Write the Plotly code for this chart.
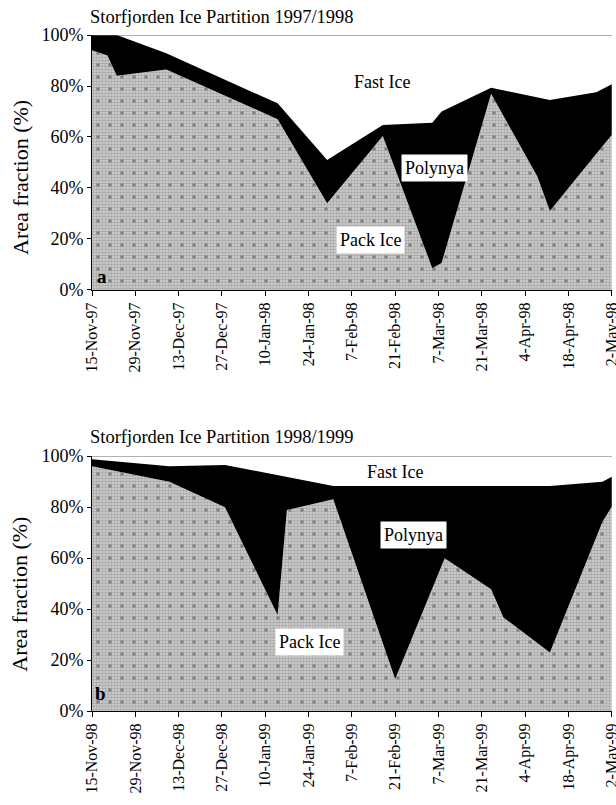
import plotly.graph_objects as go
from plotly.subplots import make_subplots

# ---------------- data ----------------
titles = ["Storfjorden Ice Partition 1997/1998", "Storfjorden Ice Partition 1998/1999"]
panel_letters = ["a", "b"]
y_title = "Area fraction (%)"

dates_a = ["1997-11-15", "1997-11-20", "1997-11-23", "1997-12-09", "1998-01-14",
           "1998-01-30", "1998-02-17", "1998-03-05", "1998-03-08", "1998-03-24",
           "1998-04-08", "1998-04-12", "1998-04-27", "1998-05-02"]
pack_a = [94, 92, 84, 86.5, 67, 34, 60.4, 8.5, 10.6, 77, 44.4, 31, 53.4, 60.8]
polynya_a = [6, 8, 16, 6.3, 6.2, 17, 4.3, 57.1, 59.4, 2.3, 31.1, 43.5, 24.1, 19.9]

dates_b = ["1998-11-15", "1998-12-10", "1998-12-28", "1999-01-14", "1999-01-17",
           "1999-02-01", "1999-02-21", "1999-03-09", "1999-03-24", "1999-03-28",
           "1999-04-12", "1999-04-29", "1999-05-02"]
pack_b = [96, 89.9, 79.9, 37.6, 78.8, 83, 12.5, 59.9, 47.7, 36.7, 22.9, 74.2, 80.1]
polynya_b = [2.7, 6.1, 16.6, 55, 13.1, 5.2, 75.7, 28.3, 40.3, 51.3, 65.3, 15.7, 11.8]

ticks_a = ["1997-11-15", "1997-11-29", "1997-12-13", "1997-12-27", "1998-01-10", "1998-01-24",
           "1998-02-07", "1998-02-21", "1998-03-07", "1998-03-21", "1998-04-04", "1998-04-18", "1998-05-02"]
ticktext_a = ["15-Nov-97", "29-Nov-97", "13-Dec-97", "27-Dec-97", "10-Jan-98", "24-Jan-98",
              "7-Feb-98", "21-Feb-98", "7-Mar-98", "21-Mar-98", "4-Apr-98", "18-Apr-98", "2-May-98"]
ticks_b = ["1998-11-15", "1998-11-29", "1998-12-13", "1998-12-27", "1999-01-10", "1999-01-24",
           "1999-02-07", "1999-02-21", "1999-03-07", "1999-03-21", "1999-04-04", "1999-04-18", "1999-05-02"]
ticktext_b = ["15-Nov-98", "29-Nov-98", "13-Dec-98", "27-Dec-98", "10-Jan-99", "24-Jan-99",
              "7-Feb-99", "21-Feb-99", "7-Mar-99", "21-Mar-99", "4-Apr-99", "18-Apr-99", "2-May-99"]
y_ticks = [0, 20, 40, 60, 80, 100]
y_ticktext = ["0%", "20%", "40%", "60%", "80%", "100%"]

# ---------------- figure ----------------
FONT = "Liberation Serif, Times New Roman, serif"
fig = make_subplots(rows=2, cols=1, vertical_spacing=0.2456)

panels = [
    (dates_a, pack_a, polynya_a, ticks_a, ticktext_a),
    (dates_b, pack_b, polynya_b, ticks_b, ticktext_b),
]

for i, (d, pk, pl, tv, tt) in enumerate(panels):
    row = i + 1
    grp = f"g{row}"
    # pack ice: fine dithered grey
    fig.add_trace(go.Scatter(
        x=d, y=pk, mode="lines", line=dict(width=0, color="#999999"),
        stackgroup=grp, fill="tozeroy", fillcolor="#b0b0b0",
        fillpattern=dict(shape=".", bgcolor="#d4d4d4", fgcolor="#7a7a7a",
                         size=3, solidity=0.55),
        showlegend=False, hoverinfo="skip", name="Pack Ice"),
        row=row, col=1)
    # polynya stacked on top (black)
    fig.add_trace(go.Scatter(
        x=d, y=pl, mode="lines", line=dict(width=0, color="black"),
        stackgroup=grp, fill="tonexty", fillcolor="black",
        showlegend=False, hoverinfo="skip", name="Polynya"),
        row=row, col=1)
    # overlay of sparse dark dots on the pack ice texture
    fig.add_trace(go.Scatter(
        x=d, y=pk, mode="lines", line=dict(width=0, color="rgba(0,0,0,0)"),
        fill="tozeroy", fillcolor="rgba(0,0,0,0)",
        fillpattern=dict(shape=".", fgcolor="#3a3a3a", size=12, solidity=0.06),
        showlegend=False, hoverinfo="skip", name="Pack Ice texture"),
        row=row, col=1)
    fig.update_xaxes(
        row=row, col=1, type="date", range=[tv[0], tv[-1] + " 02:00"],
        tickmode="array", tickvals=tv, ticktext=tt, tickangle=-90,
        ticks="outside", ticklen=5, tickcolor="black",
        showline=True, linecolor="black", linewidth=1, showgrid=False,
        zeroline=False, automargin=False, ticklabeloverflow="allow",
        tickfont=dict(family=FONT, size=16, color="black"))
    fig.update_yaxes(
        row=row, col=1, range=[0, 100], tickmode="array",
        tickvals=y_ticks, ticktext=y_ticktext,
        ticks="outside", ticklen=4, tickcolor="black",
        showline=True, linecolor="black", linewidth=1, showgrid=False,
        zeroline=False, automargin=False,
        tickfont=dict(family=FONT, size=18, color="black"))

# top border line at 100%
for i in range(2):
    ax = "" if i == 0 else "2"
    fig.add_shape(type="line", xref=f"x{ax} domain", yref=f"y{ax}",
                  x0=0, x1=1, y0=100, y1=100, line=dict(color="#666666", width=1.2))

ann = []
# titles
title_y = [1.0266, 0.4053]
for t, ty in zip(titles, title_y):
    ann.append(dict(text=t, xref="paper", yref="paper", x=-0.008, y=ty,
                    xanchor="left", yanchor="middle", showarrow=False,
                    font=dict(family=FONT, size=18.5, color="black")))

# y-axis titles
for ax, yy in [("", 0.443), ("2", 0.46)]:
    ann.append(dict(text=y_title, xref="paper", yref=f"y{ax} domain", x=-0.1385, y=yy,
                    xanchor="center", yanchor="middle", textangle=-90, showarrow=False,
                    font=dict(family=FONT, size=22, color="black")))

labels = [
    # (axis suffix, text, x domain, y domain, white box)
    ("", "Fast Ice", 0.558, 0.816, False),
    ("", "Polynya", 0.658, 0.478, True),
    ("", "Pack Ice", 0.535, 0.196, True),
    ("2", "Fast Ice", 0.583, 0.937, False),
    ("2", "Polynya", 0.619, 0.69, True),
    ("2", "Pack Ice", 0.419, 0.27, True),
]
for ax, txt, xx, yy, box in labels:
    ann.append(dict(text=txt, xref=f"x{ax} domain", yref=f"y{ax} domain", x=xx, y=yy,
                    xanchor="center", yanchor="middle", showarrow=False,
                    bgcolor="white" if box else None, borderpad=3,
                    font=dict(family=FONT, size=18, color="black")))

letter_pos = [("", 0.019, 0.051), ("2", 0.016, 0.07)]
for (ax, xx, yy), lt in zip(letter_pos, panel_letters):
    ann.append(dict(text=f"<b>{lt}</b>", xref=f"x{ax} domain", yref=f"y{ax} domain",
                    x=xx, y=yy, xanchor="center", yanchor="middle", showarrow=False,
                    font=dict(family=FONT, size=19, color="black")))

fig.update_layout(
    width=616, height=805,
    margin=dict(l=92, r=4, t=35, b=94, autoexpand=False),
    paper_bgcolor="white", plot_bgcolor="white",
    annotations=ann,
    showlegend=False,
)

fig.write_html("out.html",
               config={"displayModeBar": False},
               post_script="document.body.style.margin='0';document.body.style.overflow='hidden';")
